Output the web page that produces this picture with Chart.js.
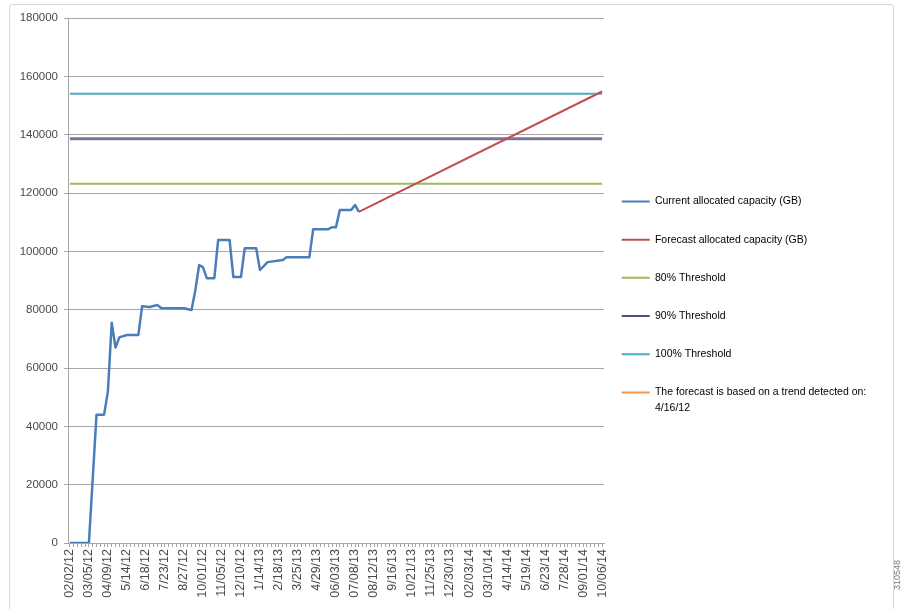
<!DOCTYPE html>
<html>
<head>
<meta charset="utf-8">
<script src="https://cdn.jsdelivr.net/npm/chart.js@4/dist/chart.umd.min.js"></script>
<style>
  html, body { margin: 0; padding: 0; background: #ffffff; }
  #wrap { position: relative; width: 905px; height: 609px; overflow: hidden; }
  #frame { position: absolute; left: 9px; top: 4px; width: 885px; height: 620px;
           border: 1px solid #d4d9d9; border-radius: 3px; box-sizing: border-box; }
  #c { position: absolute; left: 0; top: 0; }
  #figid { position: absolute; left: 892px; top: 590px; transform-origin: 0 0; transform: rotate(-90deg);
           font: 9px "Liberation Sans", sans-serif; color: #777; white-space: nowrap; }
</style>
</head>
<body>
<div id="wrap">
  <div id="frame"></div>
  <canvas id="c" width="905" height="609"></canvas>
  <div id="figid">310548</div>
</div>
<script>
// ---- data (week index 0 = 02/02/12, one category per week) ----
const tickLabels = ["02/02/12","03/05/12","04/09/12","5/14/12","6/18/12","7/23/12","8/27/12","10/01/12",
  "11/05/12","12/10/12","1/14/13","2/18/13","3/25/13","4/29/13","06/03/13","07/08/13","08/12/13",
  "9/16/13","10/21/13","11/25/13","12/30/13","02/03/14","03/10/14","4/14/14","5/19/14","6/23/14",
  "7/28/14","09/01/14","10/06/14"];
const weekCount = 141;

const currentWeeks  = [0, 5, 7, 9, 10, 11, 12, 13, 15, 18, 19, 21, 23, 24, 30, 32, 33, 34, 35, 36, 38, 39,
  42, 43, 45, 46, 49, 50, 52, 56, 57, 63, 64, 68, 69, 70, 71, 74, 75, 76];
const currentValues = [0, 0, 44000, 44000, 52000, 75500, 67000, 70500, 71300, 71300, 81200, 80900, 81600,
  80600, 80500, 79900, 86700, 95300, 94600, 90800, 90800, 103900, 103900, 91200, 91200, 101100, 101100,
  93600, 96300, 97000, 98000, 98000, 107600, 107600, 108300, 108300, 114200, 114200, 115900, 113500];

const forecastWeeks  = [76, 140];
const forecastValues = [113500, 154800];

const thresholdWeeks = [0, 140];
const threshold80  = 123200;
const threshold90  = 138600;
const threshold100 = 154000;

const seriesNames = ["Current allocated capacity (GB)", "Forecast allocated capacity (GB)",
  "80% Threshold", "90% Threshold", "100% Threshold",
  ["The forecast is based on a trend detected on:", "4/16/12"]];

const yTicks = { min: 0, max: 180000, step: 20000 };

// ---- helpers ----
const pts = (xs, ys) => xs.map((x, i) => ({ x: x, y: ys[i] }));
const flat = (xs, v) => xs.map(x => ({ x: x, y: v }));

const FONT = "'Liberation Sans', Arial, sans-serif";
Chart.defaults.font.family = FONT;
Chart.defaults.color = '#4a4a4a';

const legendLayout = {
  id: 'legendLayout',
  beforeUpdate(chart) {
    const lg = chart.legend;
    if (lg && !lg._wrapped) {
      const orig = lg.fit;
      lg.fit = function () { orig.call(this); this.width = 301; };
      lg._wrapped = true;
    }
  },
  afterLayout(chart) {
    const lg = chart.legend;
    if (!lg) return;
    lg.left = 594; lg.right = 905;
    lg.top = 168.5; lg.bottom = 609;
  }
};

const gridGray = '#a6a6a6';

new Chart(document.getElementById('c'), {
  type: 'line',
  data: {
    datasets: [
      { label: seriesNames[0], data: pts(currentWeeks, currentValues), borderColor: '#4a7ebb', backgroundColor: '#4a7ebb',
        borderWidth: 2.5, pointRadius: 0, tension: 0, borderJoinStyle: 'round', order: 0 },
      { label: seriesNames[1], data: pts(forecastWeeks, forecastValues), borderColor: '#c0504d', backgroundColor: '#c0504d',
        borderWidth: 2, pointRadius: 0, order: 1 },
      { label: seriesNames[2], data: flat(thresholdWeeks, threshold80), borderColor: '#9bbb59', backgroundColor: '#9bbb59',
        borderWidth: 2, pointRadius: 0, order: 2 },
      { label: seriesNames[3], data: flat(thresholdWeeks, threshold90), borderColor: '#7d7399', backgroundColor: '#5a4a86',
        borderWidth: 3, pointRadius: 0, order: 3 },
      { label: seriesNames[4], data: flat(thresholdWeeks, threshold100), borderColor: '#4bacc6', backgroundColor: '#4bacc6',
        borderWidth: 2, pointRadius: 0, order: 4 },
      { label: 'trend', data: [], borderColor: '#f79646', backgroundColor: '#f79646', borderWidth: 2, pointRadius: 0, order: 5 }
    ]
  },
  options: {
    responsive: false,
    animation: false,
    layout: { padding: { top: 18, left: 10, right: 0, bottom: 0 } },
    plugins: {
      legend: {
        position: 'right',
        align: 'start',
        labels: {
          boxWidth: 28,
          boxHeight: 2,
          padding: 27.7,
          color: '#404040',
          font: { size: 10.5, family: FONT, lineHeight: 1.5 },
          generateLabels(chart) {
            return chart.data.datasets.map((ds, i) => ({
              text: seriesNames[i],
              fillStyle: ds.backgroundColor,
              strokeStyle: ds.backgroundColor,
              lineWidth: 0,
              hidden: false,
              datasetIndex: i
            }));
          }
        }
      },
      tooltip: { enabled: false }
    },
    scales: {
      x: {
        type: 'linear',
        min: -0.5,
        max: weekCount - 0.5,
        afterBuildTicks(scale) {
          const t = [];
          for (let i = 0; i < weekCount; i++) t.push({ value: i });
          scale.ticks = t;
        },
        afterFit(scale) { scale.height = 66; },
        ticks: {
          autoSkip: false,
          minRotation: 90,
          maxRotation: 90,
          padding: 2,
          color: '#4a4a4a',
          font: { size: 12.5, family: FONT },
          callback(value) {
            return value % 5 === 0 ? tickLabels[value / 5] : '';
          }
        },
        grid: { drawOnChartArea: false, drawTicks: true, tickLength: 4, color: gridGray },
        border: { display: true, color: gridGray, width: 1 }
      },
      y: {
        min: yTicks.min,
        max: yTicks.max,
        afterFit(scale) { scale.width = 58; },
        ticks: {
          stepSize: yTicks.step,
          padding: 6,
          color: '#4a4a4a',
          font: { size: 11.5, family: FONT },
          callback(v) { return String(v); }
        },
        grid: { color: gridGray, lineWidth: 1, tickLength: 4, drawTicks: true },
        border: { display: true, color: gridGray, width: 1 }
      }
    }
  },
  plugins: [legendLayout]
});
</script>
</body>
</html>
